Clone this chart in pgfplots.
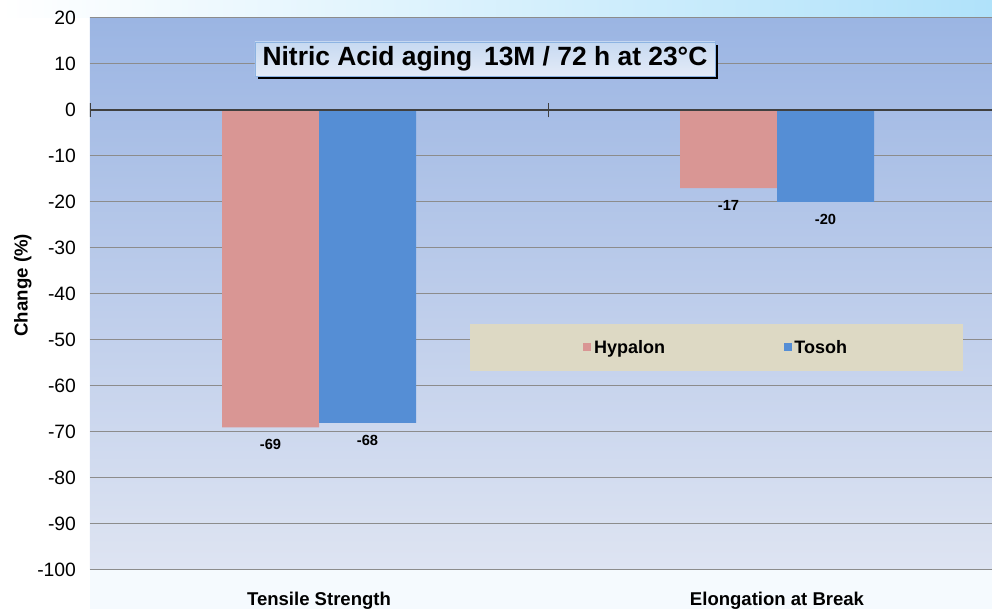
\documentclass[border=0pt]{standalone}
\usepackage{pgfplots}
\pgfplotsset{compat=1.18}
\usepackage{fontspec}
\setmainfont{Liberation Sans}
\usetikzlibrary{shadows}
\definecolor{hyp}{RGB}{217,150,148}
\definecolor{tos}{RGB}{85,142,213}
\definecolor{bgtop}{RGB}{155,181,227}
\definecolor{bgbot}{RGB}{222,228,242}
\definecolor{legfill}{RGB}{221,217,196}
\definecolor{gridc}{RGB}{140,140,140}
\definecolor{skycy}{RGB}{176,226,250}
\begin{document}
\begin{tikzpicture}
\fill[left color=white, right color=skycy] (-67.5pt,414pt) rectangle (676.5pt,427.5pt);
\fill[color={rgb,255:red,245;green,250;blue,254}] (0pt,-29.25pt) rectangle (676.5pt,0pt);
\begin{axis}[
  at={(0,0)}, anchor=south west,
  scale only axis,
  width=676.5pt, height=414pt,
  xmin=-0.5, xmax=1.4694,
  ymin=-100, ymax=20,
  ytick={-100,-90,...,20},
  xtick={0,1},
  xticklabels={Tensile Strength, Elongation at Break},
  axis line style={draw=none},
  major tick length=0pt,
  ymajorgrids,
  grid style={gridc, line width=0.75pt},
  axis background/.style={top color=bgtop, bottom color=bgbot},
  ybar, bar width=72.75pt,
  /pgf/number format/assume math mode=true,
  yticklabel style={font=\fontsize{14.5}{16}\selectfont, xshift=-7pt},
  xticklabel style={font=\bfseries\fontsize{13.9}{15}\selectfont, yshift=-13pt},
  ylabel={Change (\%)},
  ylabel style={font=\bfseries\fontsize{14}{16}\selectfont, at={(axis description cs:-0.0745,0.516)}, anchor=center},
  nodes near coords,
  nodes near coords style={anchor=north, text=black, font=\bfseries\fontsize{11}{12}\selectfont, yshift=-5.5pt},
  legend style={at={(axis cs:0.868,-51.63)}, anchor=center, fill=legfill, draw=none,
    legend columns=2, inner xsep=85pt, inner ysep=10pt,
    font=\bfseries\fontsize{13.5}{15}\selectfont,
    /tikz/every even column/.append style={column sep=87pt}},
  legend image code/.code={\fill[#1] (0pt,-3pt) rectangle (6pt,3pt);},
  clip=true,
]
\addplot+[fill=hyp, draw=none, bar shift=-36.375pt] coordinates {(0,-69) (1,-17)};
\addplot+[fill=tos, draw=none, bar shift=36.375pt] coordinates {(0,-68) (1,-20)};
\legend{Hypalon, Tosoh}
\draw[color={rgb,255:red,64;green,64;blue,64}, line width=1.5pt] (axis cs:-0.5,0) -- (axis cs:1.4694,0);
\draw[color={rgb,255:red,64;green,64;blue,64}, line width=0.75pt] (axis cs:0.5,-1.6) -- (axis cs:0.5,1.6);
\draw[color={rgb,255:red,64;green,64;blue,64}, line width=1.2pt] (axis cs:-0.5,-1.6) -- (axis cs:-0.5,1.6);
\node[font=\bfseries\fontsize{19.8}{22}\selectfont, top color={rgb,255:red,198;green,217;blue,241}, bottom color={rgb,255:red,228;green,235;blue,247},
  draw={rgb,255:red,141;green,180;blue,226}, line width=0.5pt, minimum width=345pt, minimum height=25.5pt, inner sep=0pt,
  drop shadow={shadow xshift=2.5pt, shadow yshift=-2.5pt, fill=black, opacity=1}]
  at (axis cs:0.3624,11.09) {Nitric Acid aging\, 13M / 72 h at 23°C};
\end{axis}
\pgfresetboundingbox
\useasboundingbox (-67.5pt,-29.25pt) rectangle (676.5pt,427.5pt);
\end{tikzpicture}
\end{document}
